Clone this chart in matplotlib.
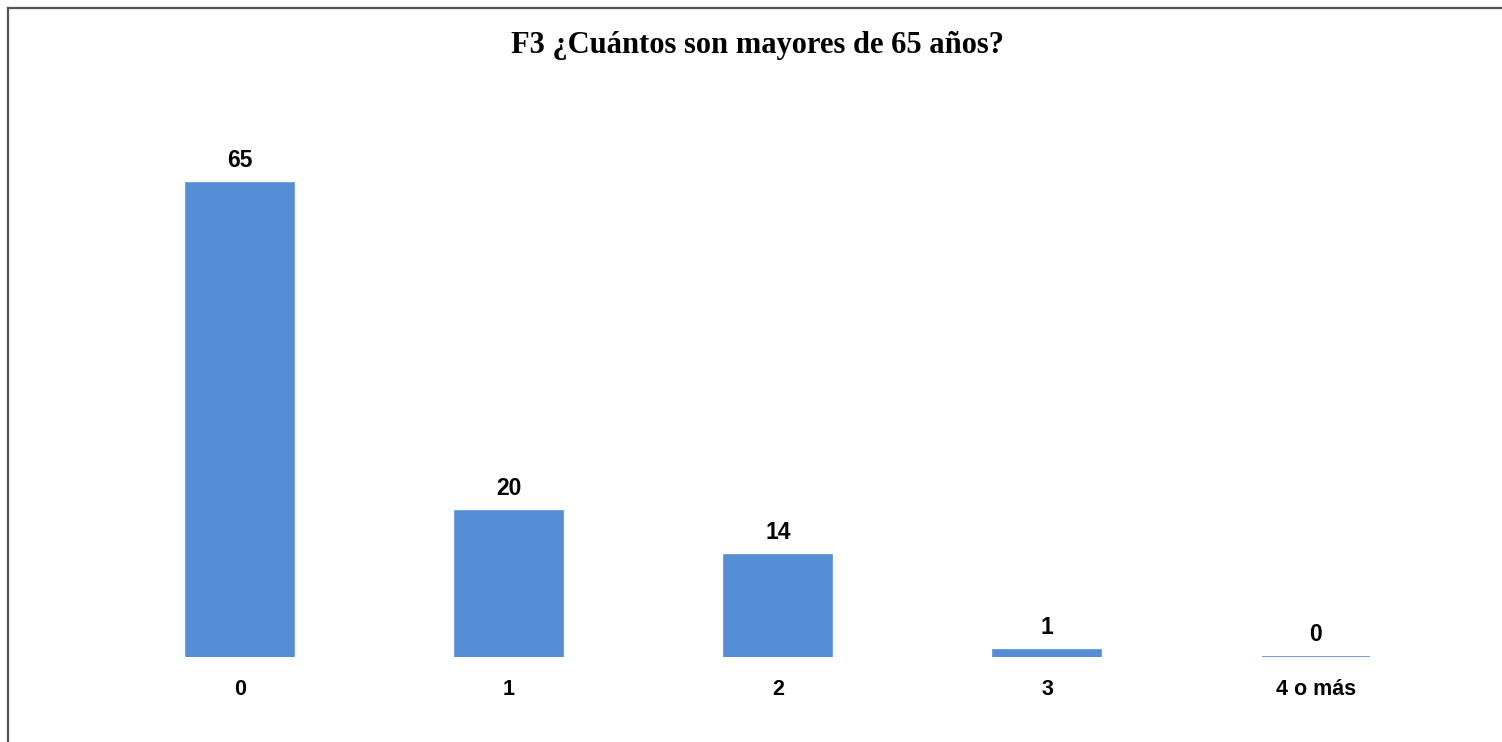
import matplotlib.pyplot as plt
from matplotlib.lines import Line2D

categories = ['0', '1', '2', '3', '4 o más']
values = [65, 20, 14, 1, 0]
title = 'F3 ¿Cuántos son mayores de 65 años?'

bar_color = '#558ED5'

fig = plt.figure(figsize=(15.02, 7.42), dpi=100)
W, H = 1502, 742
# axes placed in pixel coords: left 105.5, right 1450.5, top 110, bottom 657
ax = fig.add_axes([105.5 / W, 1 - 657 / H, (1450.5 - 105.5) / W, (657 - 110) / H])

x = list(range(len(categories)))
ax.bar(x, values, width=0.4, color=bar_color, edgecolor=bar_color, linewidth=1.2)

for xi, v in zip(x, values):
  ax.annotate(str(v), (xi, v), xytext=(0, 8), textcoords='offset points',
              ha='center', va='bottom', fontsize=16.5, fontweight='bold',
              family=['Liberation Sans Narrow', 'Liberation Sans', 'DejaVu Sans'])

ax.set_xlim(-0.5, len(categories) - 0.5)
ax.set_ylim(0, 75)
ax.set_yticks([])
ax.set_xticks(x)
ax.set_xticklabels(categories, fontsize=15.5, fontweight='bold', family=['Liberation Sans', 'DejaVu Sans'])
ax.tick_params(axis='x', length=0, pad=16)
for s in ax.spines.values():
  s.set_visible(False)

fig.text(757 / W, 1 - 46 / H, title, ha='center', va='center', fontsize=22,
         fontweight='bold', family=['Liberation Serif', 'DejaVu Serif'])

# outer frame (top and left edges visible)
fig.add_artist(Line2D([7.5 / W, 7.5 / W], [0, 1 - 7.5 / H], transform=fig.transFigure, color='#555555', linewidth=1.6))
fig.add_artist(Line2D([7.5 / W, 1], [1 - 7.5 / H, 1 - 7.5 / H], transform=fig.transFigure, color='#555555', linewidth=1.6))

fig.savefig('out.png', dpi=100, facecolor='white')
